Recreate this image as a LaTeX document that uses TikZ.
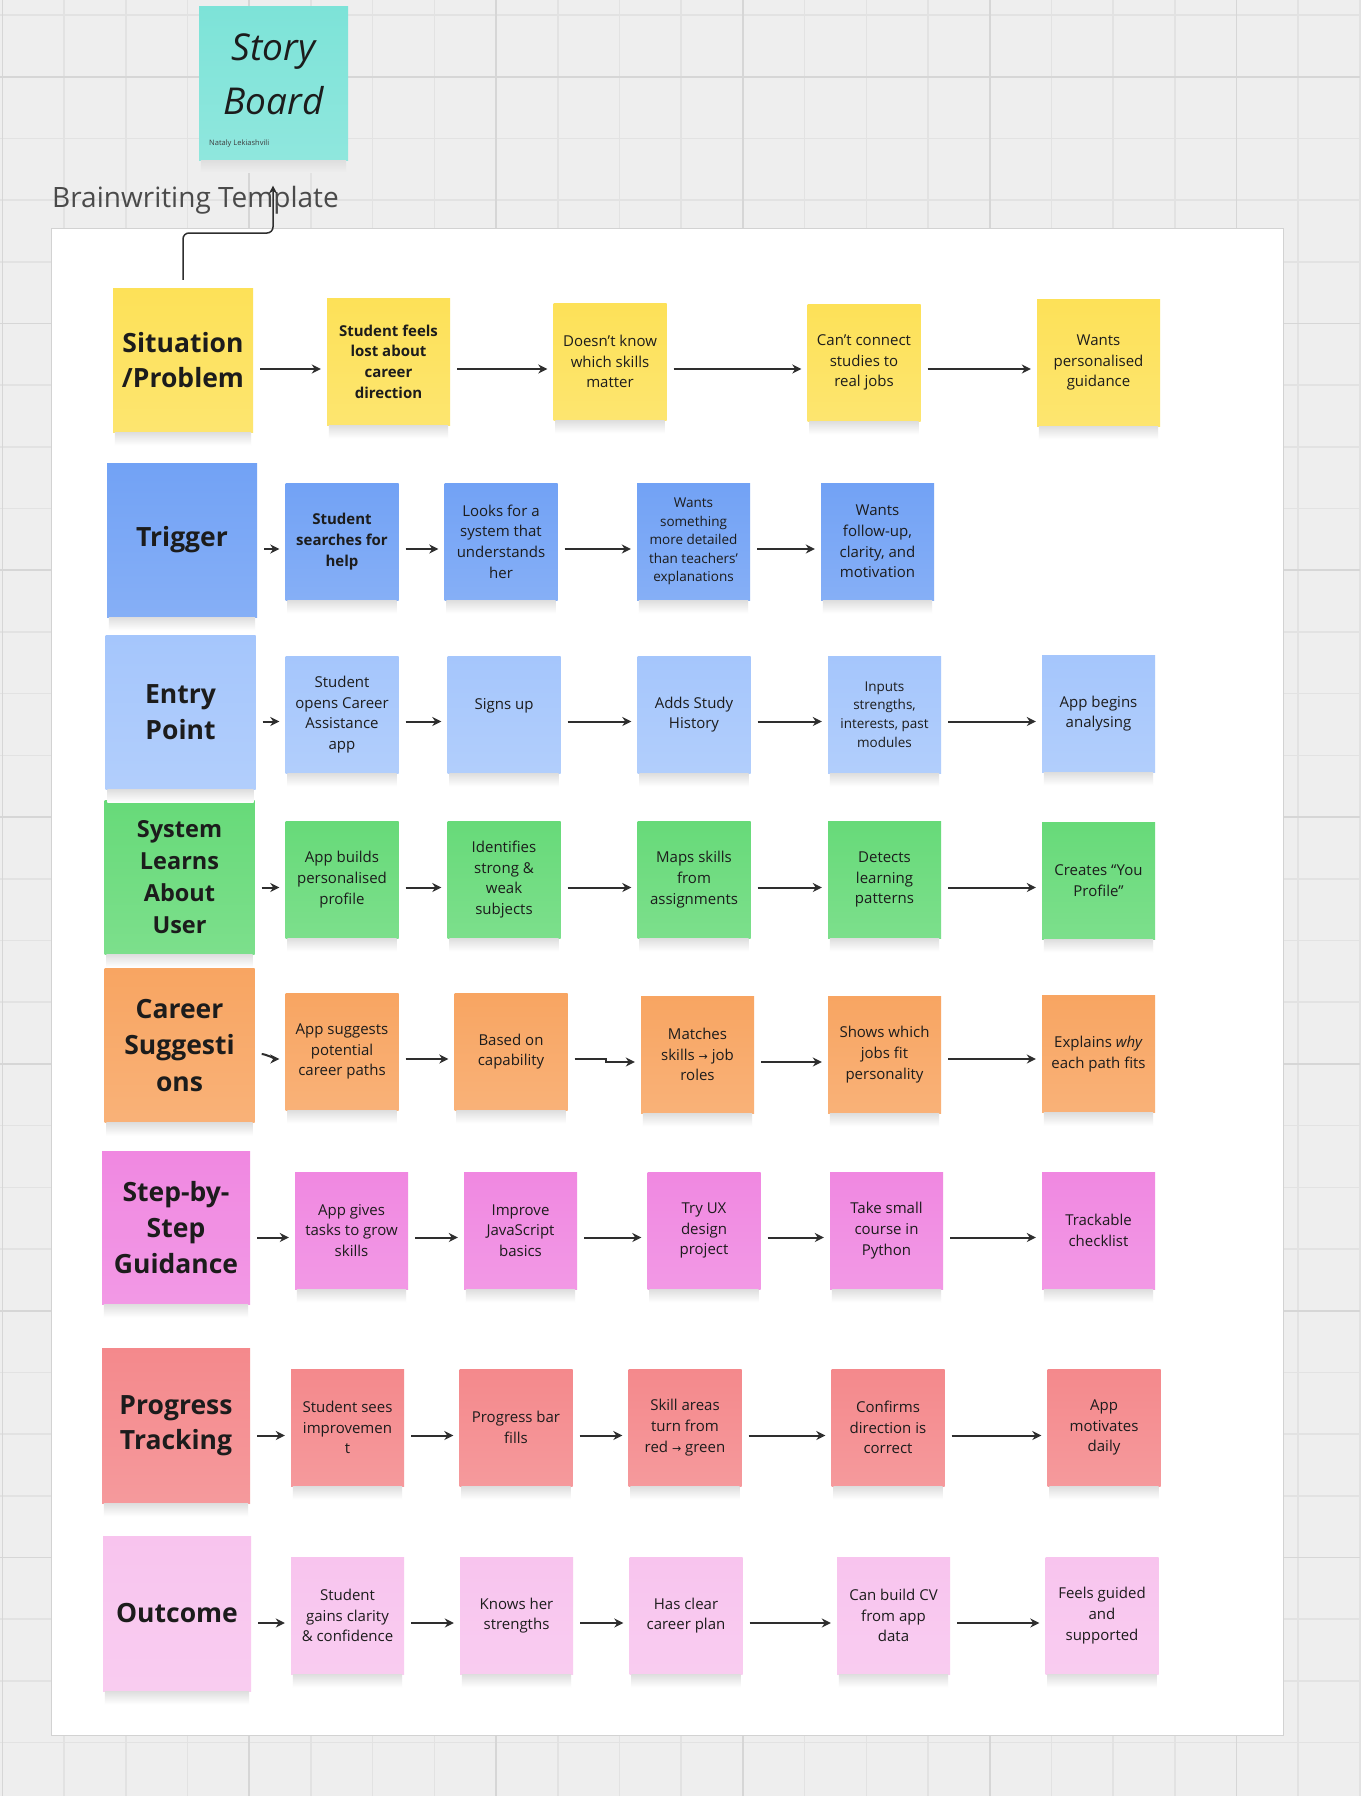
\documentclass[tikz,border=0pt]{standalone}
\usepackage{fontspec}
\setmainfont{Open Sans}
\newfontfamily\arrowfont{DejaVu Sans}
\usetikzlibrary{arrows.meta}

\definecolor{ink}{HTML}{1C1C1C}
\definecolor{canvas}{HTML}{EEEEEE}
\definecolor{gridminor}{HTML}{E2E2E2}
\definecolor{gridmajor}{HTML}{D6D6D6}
\definecolor{panelline}{HTML}{D2D2D2}
\definecolor{titlegray}{HTML}{4A4A4A}
\definecolor{cTeal}{HTML}{7DE3D8}
\definecolor{cYellow}{HTML}{FDE158}
\definecolor{cBlue}{HTML}{72A2F5}
\definecolor{cSky}{HTML}{A5C6FC}
\definecolor{cGreen}{HTML}{67DA79}
\definecolor{cOrange}{HTML}{F8A562}
\definecolor{cMagenta}{HTML}{F088E1}
\definecolor{cRed}{HTML}{F4898C}
\definecolor{cPink}{HTML}{F8C4EE}

\newcommand\headfont{\fontsize{26.5}{35.5}\selectfont\bfseries}
\newcommand\cardfont{\fontsize{15}{20.6}\selectfont}
\newcommand\smallcard{\fontsize{13.5}{18.6}\selectfont}
\newcommand\toarrow{{\arrowfont\fontsize{11}{11}\selectfont →}}

\tikzset{
sticky/.style=
    {rectangle,
    top color=#1,
    bottom color=#1!86!white,
    text=ink,
    align=center,
    inner sep=0pt
    },
head/.style={sticky=#1,minimum width=150pt,minimum height=154pt,font=\headfont},
card/.style={sticky=#1,minimum width=113pt,minimum height=117pt,font=\cardfont},
noteshadow/.style={top color=black!13,bottom color=#1},
panel/.style={rectangle,fill=white,draw=panelline,line width=1pt},
flow/.style=
    {draw=ink!92,
    line width=2pt,
    -{Stealth[length=9pt,width=9pt]},
    shorten <=7pt,
    shorten >=6pt
    },
link/.style={draw=ink!92,line width=1.5pt,rounded corners=6pt,-{Stealth[length=8pt,width=8pt]}}
}

\begin{document}
\begin{tikzpicture}[x=1pt,y=1pt]
\useasboundingbox (0,0) rectangle (1360,-1796);
\fill[canvas] (0,0) rectangle (1360,-1796);
\foreach \k in {0,...,22} \draw[gridminor,line width=1.5pt] ({2.5+61.7*\k},0) -- ++(0,-1796);
\foreach \k in {0,...,28} \draw[gridminor,line width=1.5pt] (0,{-15-61.7*\k}) -- ++(1360,0);
\foreach \k in {0,4,...,20} \draw[gridmajor,line width=1.8pt] ({2.5+61.7*\k},0) -- ++(0,-1796);
\foreach \k in {1,5,...,25} \draw[gridmajor,line width=1.8pt] (0,{-15-61.7*\k}) -- ++(1360,0);

\node[panel,minimum width=1232pt,minimum height=1507pt] (board) at (667,-981.5) {};

\node[sticky=cTeal,minimum width=149pt,minimum height=154pt] (sb) at (273.5,-83) {};
\node[font=\fontsize{37}{54}\selectfont\itshape,text=ink,align=center,inner sep=0pt] (sbtext) at ([yshift=9pt]sb.center) {Story\\Board};
\node[font=\fontsize{7.5}{9}\selectfont,text=ink!85,anchor=west,inner sep=0pt] (author) at (209,-144) {Nataly Lekiashvili};
\node[anchor=base west,font=\fontsize{28}{30}\selectfont,text=titlegray,inner sep=0pt] (title) at (52,-207) {Brainwriting Template};

\node[head=cYellow,minimum width=140pt,minimum height=144pt] (sit) at (183,-360) {Situation\\/Problem};
\node[card=cYellow,minimum width=123pt,minimum height=127pt,font=\cardfont\bfseries] (s1a) at (388.5,-361.5) {Student feels\\lost about\\career\\direction};
\node[card=cYellow] (s1b) at (610,-361.5) {Doesn’t know\\which skills\\matter};
\node[card=cYellow] (s1c) at (864,-362.5) {Can’t connect\\studies to\\real jobs};
\node[card=cYellow,minimum width=123pt,minimum height=127pt] (s1d) at (1098.5,-362.5) {Wants\\personalised\\guidance};

\node[head=cBlue] (trig) at (182,-540) {Trigger};
\node[card=cBlue,font=\cardfont\bfseries] (t1) at (342,-541.5) {Student\\searches for\\help};
\node[card=cBlue] (t2) at (501,-541.5) {Looks for a\\system that\\understands\\her};
\node[card=cBlue,font=\smallcard] (t3) at (693.5,-541.5) {Wants\\something\\more detailed\\than teachers’\\explanations};
\node[card=cBlue] (t4) at (877.5,-541.5) {Wants\\follow-up,\\clarity, and\\motivation};

\node[head=cSky] (entry) at (180.5,-712) {Entry\\Point};
\node[card=cSky] (e1) at (342,-714.5) {Student\\opens Career\\Assistance\\app};
\node[card=cSky] (e2) at (504,-714.5) {Signs up\\~};
\node[card=cSky] (e3) at (694,-714.5) {Adds Study\\History};
\node[card=cSky,font=\smallcard] (e4) at (884.5,-714.5) {Inputs\\strengths,\\interests, past\\modules};
\node[card=cSky] (e5) at (1098.5,-713.5) {App begins\\analysing};

\node[head=cGreen,font=\fontsize{23.5}{32}\selectfont\bfseries] (sys) at (179.5,-877) {System\\Learns\\About\\User};
\node[card=cGreen] (g1) at (342,-879.5) {App builds\\personalised\\profile};
\node[card=cGreen] (g2) at (504,-879.5) {Identifies\\strong \&\\weak\\subjects};
\node[card=cGreen] (g3) at (694,-879.5) {Maps skills\\from\\assignments};
\node[card=cGreen] (g4) at (884.5,-879.5) {Detects\\learning\\patterns};
\node[card=cGreen] (g5) at (1098.5,-880.5) {Creates “You\\Profile”};

\node[head=cOrange,font=\fontsize{26.5}{36.5}\selectfont\bfseries] (car) at (179.5,-1045.5) {Career\\Suggesti\\ons};
\node[card=cOrange] (o1) at (342,-1051.5) {App suggests\\potential\\career paths};
\node[card=cOrange] (o2) at (511,-1051.5) {Based on\\capability};
\node[card=cOrange] (o3) at (697.5,-1054.5) {Matches\\skills \toarrow\ job\\roles};
\node[card=cOrange] (o4) at (884.5,-1054.5) {Shows which\\jobs fit\\personality};
\node[card=cOrange] (o5) at (1098.5,-1054) {Explains \textit{why}\\each path fits};

\node[head=cMagenta,minimum width=148pt,minimum height=153pt,font=\fontsize{26.5}{36}\selectfont\bfseries] (step) at (176,-1227.5) {Step-by-\\Step\\Guidance};
\node[card=cMagenta] (m1) at (351.5,-1230.5) {App gives\\tasks to grow\\skills};
\node[card=cMagenta] (m2) at (520.5,-1230.5) {Improve\\JavaScript\\basics};
\node[card=cMagenta] (m3) at (704,-1230.5) {Try UX\\design\\project};
\node[card=cMagenta] (m4) at (886.5,-1230.5) {Take small\\course in\\Python};
\node[card=cMagenta] (m5) at (1098.5,-1230.5) {Trackable\\checklist};

\node[head=cRed,minimum width=148pt,minimum height=155pt] (prog) at (176,-1425.5) {Progress\\Tracking};
\node[card=cRed] (p1) at (347.5,-1427.5) {Student sees\\improvemen\\t};
\node[card=cRed] (p2) at (516,-1427.5) {Progress bar\\fills};
\node[card=cRed] (p3) at (685,-1427.5) {Skill areas\\turn from\\red \toarrow\ green};
\node[card=cRed] (p4) at (888,-1427.5) {Confirms\\direction is\\correct};
\node[card=cRed] (p5) at (1104,-1427.5) {App\\motivates\\daily};

\node[head=cPink,minimum width=148pt,minimum height=155pt] (out) at (177,-1613.5) {Outcome};
\node[card=cPink] (k1) at (347.5,-1615.5) {Student\\gains clarity\\\& confidence};
\node[card=cPink] (k2) at (516.5,-1615.5) {Knows her\\strengths};
\node[card=cPink] (k3) at (686,-1615.5) {Has clear\\career plan};
\node[card=cPink] (k4) at (893.5,-1615.5) {Can build CV\\from app\\data};
\node[card=cPink] (k5) at (1102,-1615.5) {Feels guided\\and\\supported};

\shade[noteshadow=canvas] ([xshift=2pt]sb.south west) rectangle ([xshift=-2pt,yshift=-12pt]sb.south east);
\foreach \n in {sit,s1a,s1b,s1c,s1d,trig,t1,t2,t3,t4,entry,e1,e2,e3,e4,e5,sys,g1,g2,g3,g4,g5,
                car,o1,o2,o3,o4,o5,step,m1,m2,m3,m4,m5,prog,p1,p2,p3,p4,p5,out,k1,k2,k3,k4,k5}
  \shade[noteshadow=white] ([xshift=2pt]\n.south west) rectangle ([xshift=-2pt,yshift=-13pt]\n.south east);

\coordinate (bend) at (273,-233);
\draw[link] ([yshift=8pt]sit.north) |- (bend) -- (bend |- title.north);

\coordinate (r1) at (0,-369);
\coordinate (r2) at (0,-549);
\coordinate (r3) at (0,-721.5);
\coordinate (r4) at (0,-887.5);
\coordinate (r5) at (0,-1059);
\coordinate (r5b) at (0,-1062);
\coordinate (r6) at (0,-1237.5);
\coordinate (r7) at (0,-1435.5);
\coordinate (r8) at (0,-1623);

\draw[flow] (sit.east |- r1) -- (s1a.west |- r1);
\draw[flow] (s1a.east |- r1) -- (s1b.west |- r1);
\draw[flow] (s1b.east |- r1) -- (s1c.west |- r1);
\draw[flow] (s1c.east |- r1) -- (s1d.west |- r1);

\draw[flow] (trig.east |- r2) -- (t1.west |- r2);
\draw[flow] (t1.east |- r2) -- (t2.west |- r2);
\draw[flow] (t2.east |- r2) -- (t3.west |- r2);
\draw[flow] (t3.east |- r2) -- (t4.west |- r2);

\draw[flow] (entry.east |- r3) -- (e1.west |- r3);
\draw[flow] (e1.east |- r3) -- (e2.west |- r3);
\draw[flow] (e2.east |- r3) -- (e3.west |- r3);
\draw[flow] (e3.east |- r3) -- (e4.west |- r3);
\draw[flow] (e4.east |- r3) -- (e5.west |- r3);

\draw[flow] (sys.east |- r4) -- (g1.west |- r4);
\draw[flow] (g1.east |- r4) -- (g2.west |- r4);
\draw[flow] (g2.east |- r4) -- (g3.west |- r4);
\draw[flow] (g3.east |- r4) -- (g4.west |- r4);
\draw[flow] (g4.east |- r4) -- (g5.west |- r4);

\draw[flow] ([yshift=5pt]car.east |- r5) .. controls +(10,0) and +(-8,0) .. (o1.west |- r5);
\draw[flow] (o1.east |- r5) -- (o2.west |- r5);
\draw[flow] (o2.east |- r5) -- ++(38,0) -- ++(0,-3) -- (o3.west |- r5b);
\draw[flow] (o3.east |- r5b) -- (o4.west |- r5b);
\draw[flow] (o4.east |- r5) -- (o5.west |- r5);

\draw[flow] (step.east |- r6) -- (m1.west |- r6);
\draw[flow] (m1.east |- r6) -- (m2.west |- r6);
\draw[flow] (m2.east |- r6) -- (m3.west |- r6);
\draw[flow] (m3.east |- r6) -- (m4.west |- r6);
\draw[flow] (m4.east |- r6) -- (m5.west |- r6);

\draw[flow] (prog.east |- r7) -- (p1.west |- r7);
\draw[flow] (p1.east |- r7) -- (p2.west |- r7);
\draw[flow] (p2.east |- r7) -- (p3.west |- r7);
\draw[flow] (p3.east |- r7) -- (p4.west |- r7);
\draw[flow] (p4.east |- r7) -- (p5.west |- r7);

\draw[flow] (out.east |- r8) -- (k1.west |- r8);
\draw[flow] (k1.east |- r8) -- (k2.west |- r8);
\draw[flow] (k2.east |- r8) -- (k3.west |- r8);
\draw[flow] (k3.east |- r8) -- (k4.west |- r8);
\draw[flow] (k4.east |- r8) -- (k5.west |- r8);
\end{tikzpicture}
\end{document}
